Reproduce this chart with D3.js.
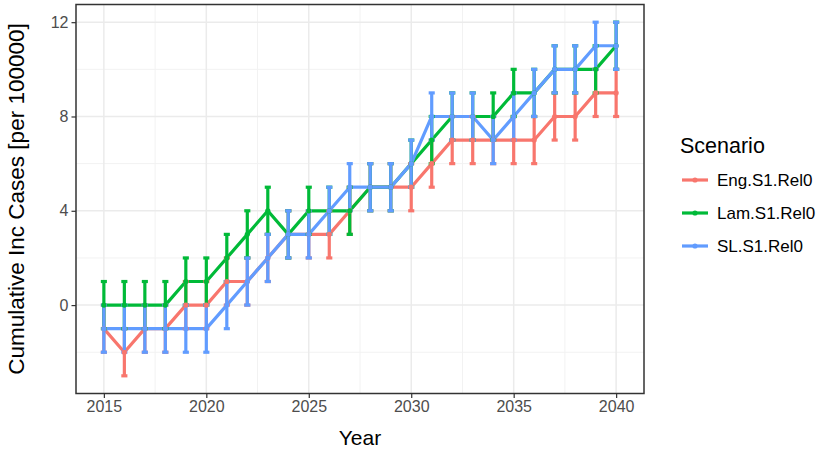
<!DOCTYPE html>
<html><head><meta charset="utf-8">
<script src="https://cdn.jsdelivr.net/npm/d3@7"></script>
<style>body{margin:0;background:#fff;} svg{display:block;font-family:"Liberation Sans",Arial,sans-serif;}</style>
</head><body><svg id="c" width="819" height="454"></svg>
<script>
const years = d3.range(2015, 2041);
const seriesNames = ["Eng.S1.Rel0", "Lam.S1.Rel0", "SL.S1.Rel0"];
const seriesColors = ["#F8766D", "#00BA38", "#619CFF"];
const engValues = [-1,-2,-1,-1,0,0,1,1,2,3,3,3,4,5,5,5,6,7,7,7,7,7,8,8,9,9];
const lamValues = [0,0,0,0,1,1,2,3,4,3,4,4,4,5,5,6,7,8,8,8,9,9,10,10,10,11];
const slValues  = [-1,-1,-1,-1,-1,-1,0,1,2,3,3,4,5,5,5,6,8,8,8,7,8,9,10,10,11,11];
const errHalf = 1;
const xTicks = [2015, 2020, 2025, 2030, 2035, 2040];
const yTicks = [0, 4, 8, 12];
const xTitle = "Year";
const yTitle = "Cumulative Inc Cases [per 100000]";
const legendTitle = "Scenario";

const allValues = [engValues, lamValues, slValues];
const series = seriesNames.map((n, i) => ({
  name: n, color: seriesColors[i],
  pts: years.map((y, j) => ({x: y, v: allValues[i][j], lo: allValues[i][j] - errHalf, hi: allValues[i][j] + errHalf}))
}));

const svg = d3.select("#c");
const L = 76, R = 644, T = 4.5, B = 393.5;
const x = d3.scaleLinear().domain([2013.64, 2041.36]).range([L, R]);
const y = d3.scaleLinear().domain([-3.75, 12.75]).range([B, T]);

// grid
const g = svg.append("g");
const xMinor = [2017.5, 2022.5, 2027.5, 2032.5, 2037.5];
const yMinor = [-2, 2, 6, 10];
g.selectAll(".xm").data(xMinor).join("line").attr("x1", d => x(d)).attr("x2", d => x(d)).attr("y1", T).attr("y2", B).attr("stroke", "#F2F2F2").attr("stroke-width", 1);
g.selectAll(".ym").data(yMinor).join("line").attr("y1", d => y(d)).attr("y2", d => y(d)).attr("x1", L).attr("x2", R).attr("stroke", "#F2F2F2").attr("stroke-width", 1);
g.selectAll(".xM").data(xTicks).join("line").attr("x1", d => x(d)).attr("x2", d => x(d)).attr("y1", T).attr("y2", B).attr("stroke", "#EBEBEB").attr("stroke-width", 1.5);
g.selectAll(".yM").data(yTicks).join("line").attr("y1", d => y(d)).attr("y2", d => y(d)).attr("x1", L).attr("x2", R).attr("stroke", "#EBEBEB").attr("stroke-width", 1.5);

// lines
const line = d3.line().x(d => x(d.x)).y(d => y(d.v));
series.forEach(s => {
  svg.append("path").datum(s.pts).attr("d", line).attr("fill", "none").attr("stroke", s.color).attr("stroke-width", 3.2).attr("stroke-linejoin", "round");
});
// error bars
const cap = (x(2015.1) - x(2014.9));
series.forEach(s => {
  const eg = svg.append("g").attr("stroke", s.color).attr("stroke-width", 3.2).attr("stroke-linecap", "butt");
  eg.selectAll(".v").data(s.pts).join("line").attr("x1", d => x(d.x)).attr("x2", d => x(d.x)).attr("y1", d => y(d.lo)).attr("y2", d => y(d.hi));
  eg.selectAll(".t").data(s.pts).join("line").attr("x1", d => x(d.x) - cap/2 - 1).attr("x2", d => x(d.x) + cap/2 + 1).attr("y1", d => y(d.hi)).attr("y2", d => y(d.hi));
  eg.selectAll(".b").data(s.pts).join("line").attr("x1", d => x(d.x) - cap/2 - 1).attr("x2", d => x(d.x) + cap/2 + 1).attr("y1", d => y(d.lo)).attr("y2", d => y(d.lo));
});
// points
series.forEach(s => {
  svg.append("g").selectAll("circle").data(s.pts).join("circle").attr("cx", d => x(d.x)).attr("cy", d => y(d.v)).attr("r", 2.6).attr("fill", s.color);
});

// panel border
svg.append("rect").attr("x", L).attr("y", T).attr("width", R - L).attr("height", B - T).attr("fill", "none").attr("stroke", "#333333").attr("stroke-width", 1.5);

// axes
const xa = svg.append("g").attr("transform", `translate(0,${B})`).call(d3.axisBottom(x).tickValues(xTicks).tickFormat(d3.format("d")).tickSize(4.5).tickPadding(3));
const ya = svg.append("g").attr("transform", `translate(${L},0)`).call(d3.axisLeft(y).tickValues(yTicks).tickSize(4.5).tickPadding(3));
[xa, ya].forEach(a => {
  a.select(".domain").remove();
  a.selectAll(".tick line").attr("stroke", "#333333").attr("stroke-width", 1.2);
  a.selectAll(".tick text").attr("fill", "#4D4D4D").style("font-size", "16px").style("font-family", '"Liberation Sans",Arial,sans-serif');
});

// titles
svg.append("text").attr("x", (L + R) / 2).attr("y", 445).attr("text-anchor", "middle").attr("font-size", 21).attr("fill", "#000").text(xTitle);
svg.append("text").attr("transform", `translate(24,${(T + B) / 2}) rotate(-90)`).attr("text-anchor", "middle").attr("font-size", 22.5).attr("fill", "#000").text(yTitle);

// legend
const lg = svg.append("g");
lg.append("text").attr("x", 680).attr("y", 153).attr("font-size", 21.5).attr("fill", "#000").text(legendTitle);
series.forEach((s, i) => {
  const cy = 180 + i * 33;
  lg.append("line").attr("x1", 682).attr("x2", 708).attr("y1", cy).attr("y2", cy).attr("stroke", s.color).attr("stroke-width", 3.2);
  lg.append("circle").attr("cx", 695).attr("cy", cy).attr("r", 2.6).attr("fill", s.color);
  lg.append("text").attr("x", 717).attr("y", cy + 6).attr("font-size", 17).attr("fill", "#000").text(s.name);
});
</script></body></html>
